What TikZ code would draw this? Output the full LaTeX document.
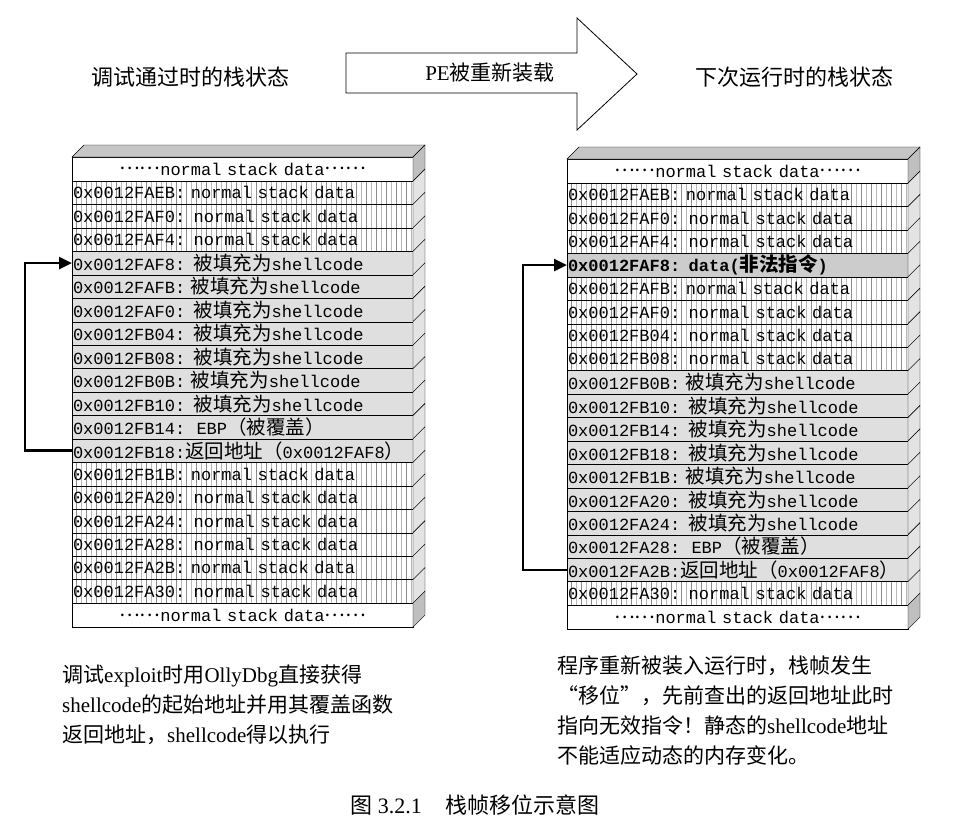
\documentclass[tikz,border=0pt]{standalone}
\usepackage{fontspec}
\setmainfont{Liberation Serif}
\setmonofont{Liberation Mono}
\newfontfamily\cjk{Noto Sans CJK SC}
\usetikzlibrary{arrows.meta,positioning,calc}

\newcommand{\zh}[1]{{\cjk #1}}
\newcommand{\zhr}[1]{{\cjk\fontsize{19.5}{20}\selectfont #1}}
\newcommand{\stackdots}{\raisebox{0.3em}{\zhr{……}}}

\begin{document}
\begin{tikzpicture}[x=1pt, y=-1pt,
  every node/.style={inner sep=0pt},
  row/.style={draw, outer sep=0pt, minimum width=341pt, minimum height=23.45pt,
    inner xsep=1pt, text width=339pt, align=left,
    font=\ttfamily\fontsize{17}{18}\selectfont},
  normrow/.style={row, path picture={
    \foreach \h in {4,14,...,339}
      \draw[gray!90, line width=0.6pt] ([xshift=\h pt]path picture bounding box.north west)
        -- ([xshift=\h pt]path picture bounding box.south west);
    \foreach \h in {9,19,...,339}
      \draw[gray!55, line width=0.8pt] ([xshift=\h pt]path picture bounding box.north west)
        -- ([xshift=\h pt]path picture bounding box.south west);}},
  shellrow/.style={row, fill=gray!25},
  badrow/.style={row, fill=gray!40, font=\ttfamily\bfseries\fontsize{17}{18}\selectfont},
  endrow/.style={row, fill=white, minimum height=24pt, align=center},
  side/.style={draw, fill=gray!22},
  darkside/.style={draw, fill=gray!50},
  retline/.style={line width=2.6pt, -{Triangle[length=13pt,width=12pt]}},
  title/.style={font=\cjk\fontsize{22}{24}\selectfont},
  note/.style={align=left, anchor=north west, font=\fontsize{21}{30}\selectfont}
]
  \useasboundingbox[fill=white] (0,0) rectangle (973,832);

  % headings and the big arrow
  \node[title] (lhead) at (190,77) {调试通过时的栈状态};
  \node[title] (rhead) at (794,77) {下次运行时的栈状态};
  \draw[fill=white, line width=0.8pt] (346,53) -- (577,53) -- (577,18) -- (637,74)
    -- (577,130) -- (577,93) -- (346,93) -- cycle;
  \node[font=\fontsize{21}{24}\selectfont] (pe) at (490,73) {PE\zh{被重新装载}};

  % left stack: before reloading
  \node[endrow, anchor=north west] (L0) at (72,157) {\stackdots normal stack data\stackdots};
  \foreach \i/\s/\t [remember=\i as \p (initially 0)] in {
      1/normrow/{0x0012FAEB: normal stack data},
      2/normrow/{0x0012FAF0: normal stack data},
      3/normrow/{0x0012FAF4: normal stack data},
      4/shellrow/{0x0012FAF8: \zhr{被填充为}shellcode},
      5/shellrow/{0x0012FAFB: \zhr{被填充为}shellcode},
      6/shellrow/{0x0012FAF0: \zhr{被填充为}shellcode},
      7/shellrow/{0x0012FB04: \zhr{被填充为}shellcode},
      8/shellrow/{0x0012FB08: \zhr{被填充为}shellcode},
      9/shellrow/{0x0012FB0B: \zhr{被填充为}shellcode},
      10/shellrow/{0x0012FB10: \zhr{被填充为}shellcode},
      11/shellrow/{0x0012FB14:~~EBP\zhr{（被覆盖）}},
      12/shellrow/{0x0012FB18:\zhr{返回地址（}0x0012FAF8\zhr{）}},
      13/normrow/{0x0012FB1B: normal stack data},
      14/normrow/{0x0012FA20: normal stack data},
      15/normrow/{0x0012FA24: normal stack data},
      16/normrow/{0x0012FA28: normal stack data},
      17/normrow/{0x0012FA2B: normal stack data},
      18/normrow/{0x0012FA30: normal stack data}}
    \node[\s, below=0pt of L\p] (L\i) {\t};
  \node[endrow, below=0pt of L18] (L19) {\stackdots normal stack data\stackdots};

  % right stack: after reloading
  \node[endrow, anchor=north west] (R0) at (567,159) {\stackdots normal stack data\stackdots};
  \foreach \i/\s/\t [remember=\i as \p (initially 0)] in {
      1/normrow/{0x0012FAEB: normal stack data},
      2/normrow/{0x0012FAF0: normal stack data},
      3/normrow/{0x0012FAF4: normal stack data},
      4/badrow/{0x0012FAF8: data(\zhr{非法指令})},
      5/normrow/{0x0012FAFB: normal stack data},
      6/normrow/{0x0012FAF0: normal stack data},
      7/normrow/{0x0012FB04: normal stack data},
      8/normrow/{0x0012FB08: normal stack data},
      9/shellrow/{0x0012FB0B: \zhr{被填充为}shellcode},
      10/shellrow/{0x0012FB10: \zhr{被填充为}shellcode},
      11/shellrow/{0x0012FB14: \zhr{被填充为}shellcode},
      12/shellrow/{0x0012FB18: \zhr{被填充为}shellcode},
      13/shellrow/{0x0012FB1B: \zhr{被填充为}shellcode},
      14/shellrow/{0x0012FA20: \zhr{被填充为}shellcode},
      15/shellrow/{0x0012FA24: \zhr{被填充为}shellcode},
      16/shellrow/{0x0012FA28:~~EBP\zhr{（被覆盖）}},
      17/shellrow/{0x0012FA2B:\zhr{返回地址（}0x0012FAF8\zhr{）}},
      18/normrow/{0x0012FA30: normal stack data}}
    \node[\s, below=0pt of R\p] (R\i) {\t};
  \node[endrow, below=0pt of R18] (R19) {\stackdots normal stack data\stackdots};

  % 3d faces
  \foreach \S in {L,R} {
    \draw[fill=gray!45] (\S0.north west) -- ++(12,-12) -- ($(\S0.north east)+(12,-12)$)
      -- (\S0.north east) -- cycle;
    \foreach \k in {1,...,18}
      \draw[side] (\S\k.north east) -- ++(12,-12) -- ($(\S\k.south east)+(12,-12)$)
        -- (\S\k.south east) -- cycle;
    \foreach \k in {0,19}
      \draw[darkside] (\S\k.north east) -- ++(12,-12) -- ($(\S\k.south east)+(12,-12)$)
        -- (\S\k.south east) -- cycle;
  }

  % return address links
  \draw[retline] (L12.west) -- ++(-47,0) |- (L4.west);
  \draw[retline] (R17.west) -- ++(-44,0) |- (R4.west);

  % notes
  \node[note] (lnote) at (62,665) {\zh{调试}exploit\zh{时用}OllyDbg\zh{直接获得}\\
    shellcode\zh{的起始地址并用其覆盖函数}\\
    \zh{返回地址，}shellcode\zh{得以执行}};
  \node[note] (rnote) at (557,656) {\zh{程序重新被装入运行时，栈帧发生}\\
    \zh{“移位”，先前查出的返回地址此时}\\
    \zh{指向无效指令！静态的}shellcode\zh{地址}\\
    \zh{不能适应动态的内存变化。}};
  \node[font=\fontsize{22}{24}\selectfont] (cap) at (475,805)
    {\zh{图}~3.2.1\hspace{24pt}\zh{栈帧移位示意图}};
\end{tikzpicture}
\end{document}
